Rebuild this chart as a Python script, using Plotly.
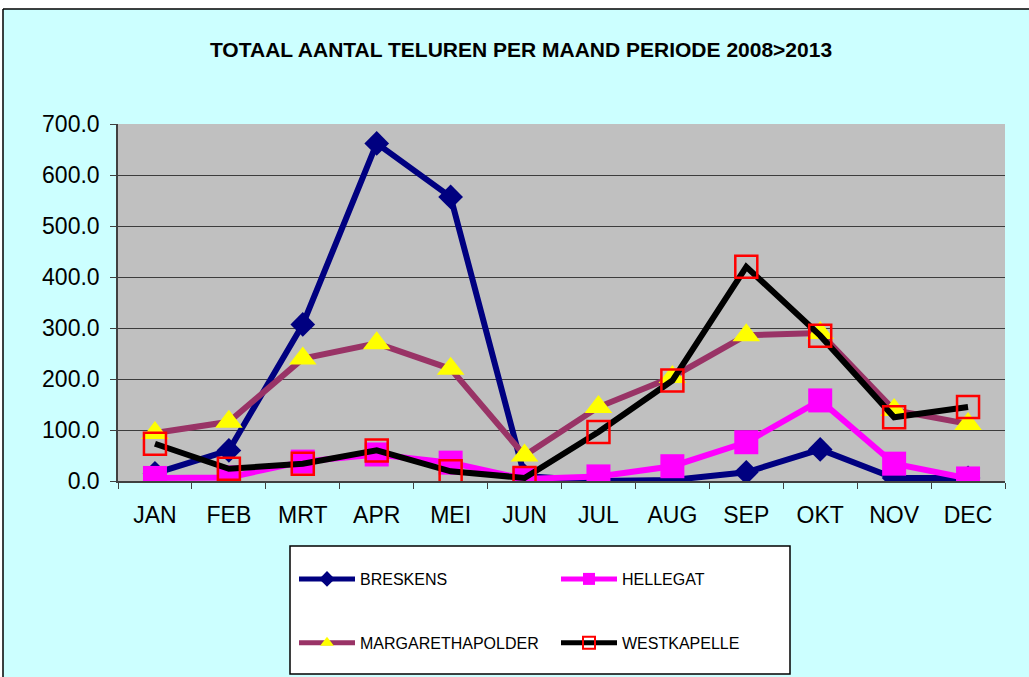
import plotly.graph_objects as go

MONTHS = ["JAN", "FEB", "MRT", "APR", "MEI", "JUN", "JUL", "AUG", "SEP", "OKT", "NOV", "DEC"]

breskens = [15, 60, 307, 662, 557, 10, 0, 2, 17, 62, 6, 6]
hellegat = [6, 7, 38, 52, 36, 4, 9, 29, 76, 158, 34, 5]
margarethapolder = [94, 116, 240, 270, 220, 50, 145, 204, 286, 290, 139, 112]
westkapelle = [73, 24, 34, 60, 19, 6, 96, 197, 420, 285, 125, 145]

Y_TICKS = [0, 100, 200, 300, 400, 500, 600, 700]

W, H = 1029, 677
PLOT_L, PLOT_R, PLOT_T, PLOT_B = 118, 1005, 124, 481


def px_x(px):
    # pixel x -> paper x
    return (px - PLOT_L) / (PLOT_R - PLOT_L)


def px_y(py):
    # pixel y -> paper y
    return (PLOT_B - py) / (PLOT_B - PLOT_T)


series = [
    ("BRESKENS", breskens, "#000080", dict(symbol="diamond", size=19, color="#000080"), "legend"),
    ("HELLEGAT", hellegat, "#FF00FF", dict(symbol="square", size=24, color="#FF00FF"), "legend2"),
    ("MARGARETHAPOLDER", margarethapolder, "#993366",
     dict(symbol="triangle-up", size=24, color="#FFFF00"), "legend"),
    ("WESTKAPELLE", westkapelle, "#000000",
     dict(symbol="square", size=22, color="rgba(0,0,0,0)", line=dict(color="#FF0000", width=2.5)), "legend2"),
]

fig = go.Figure()
for name, values, color, marker, leg in series:
    fig.add_trace(go.Scatter(
        x=MONTHS, y=values, name=name, mode="lines+markers",
        line=dict(color=color, width=6),
        marker=marker,
        legend=leg, legendgroup=name,
    ))

shapes = [
    # white margins outside the chart area
    dict(type="rect", xref="paper", yref="paper", x0=px_x(-5), x1=px_x(3), y0=px_y(H + 5), y1=px_y(-5),
         fillcolor="white", line_width=0, layer="above"),
    dict(type="rect", xref="paper", yref="paper", x0=px_x(-5), x1=px_x(W + 5), y0=px_y(-5), y1=px_y(9),
         fillcolor="white", line_width=0, layer="above"),
    # chart area border
    dict(type="line", xref="paper", yref="paper", x0=px_x(3), x1=px_x(W + 5), y0=px_y(9), y1=px_y(9),
         line=dict(color="black", width=1.5), layer="above"),
    dict(type="line", xref="paper", yref="paper", x0=px_x(3), x1=px_x(3), y0=px_y(9), y1=px_y(H + 5),
         line=dict(color="black", width=1.5), layer="above"),
    # legend box
    dict(type="rect", xref="paper", yref="paper", x0=px_x(290), x1=px_x(790), y0=px_y(546), y1=px_y(674),
         fillcolor="white", line=dict(color="black", width=1.5), layer="above"),
]

legend_style = dict(
    font=dict(family="Arial, Liberation Sans, sans-serif", size=16, color="black"),
    bgcolor="rgba(0,0,0,0)", borderwidth=0, orientation="v",
    traceorder="grouped", tracegroupgap=40, itemwidth=56, itemsizing="constant",
    xanchor="left", yanchor="top", y=px_y(562),
)

fig.update_layout(
    width=W, height=H,
    margin=dict(l=PLOT_L, r=W - PLOT_R, t=PLOT_T, b=H - PLOT_B),
    paper_bgcolor="#CCFFFF",
    plot_bgcolor="#C0C0C0",
    font=dict(family="Arial, Liberation Sans, sans-serif", color="black"),
    title=dict(
        text="<b>TOTAAL AANTAL TELUREN PER MAAND PERIODE 2008>2013</b>",
        x=521 / W, xanchor="center", y=1 - 50 / H, yanchor="middle",
        font=dict(size=21, color="black"),
    ),
    shapes=shapes,
    legend=dict(x=px_x(294), **legend_style),
    legend2=dict(x=px_x(556), **legend_style),
    showlegend=True,
)

fig.update_xaxes(
    type="category", range=[-0.5, 11.5],
    showline=True, linecolor="#404040", linewidth=1.5,
    ticks="outside", tickson="boundaries", ticklen=6, tickcolor="#404040",
    tickfont=dict(size=23), ticklabelstandoff=13,
    showgrid=False, zeroline=False,
)
fig.update_yaxes(
    range=[0, 700], tickvals=Y_TICKS, tickformat=".1f",
    showline=True, linecolor="#404040", linewidth=1.5,
    ticks="outside", ticklen=6, tickcolor="#404040",
    tickfont=dict(size=23), ticklabelstandoff=6,
    showgrid=True, gridcolor="#3C3C3C", gridwidth=1.2, zeroline=False,
)

# drop the browser's default body margin so the figure sits at the page corner
fig.write_html(
    "out.html",
    config={"displayModeBar": False},
    post_script="document.body.style.margin='0';",
)
